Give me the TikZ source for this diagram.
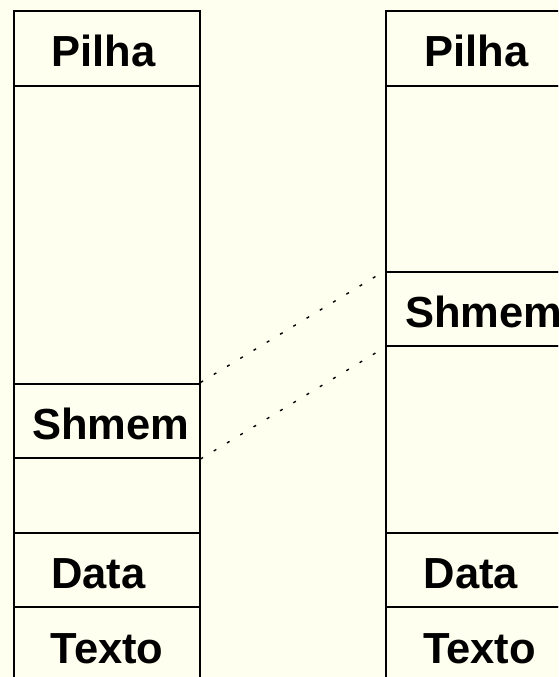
\documentclass[tikz,border=0pt]{standalone}
\usepackage{fontspec}
\setsansfont{Liberation Sans}
\definecolor{fundo}{RGB}{255,255,240}
\tikzset{
  celula/.style={draw, line width=2pt, anchor=north west, inner sep=0pt, minimum width=186pt},
  rotulo/.style={font=\sffamily\bfseries\fontsize{43.5}{44}\selectfont, anchor=base west, inner sep=0pt},
  ligacao/.style={line width=1.4pt, dash pattern=on 3pt off 12.5pt}
}
\begin{document}
\begin{tikzpicture}[x=1pt, y=-1pt]
\fill[fundo] (0,0) rectangle (558,677);
\clip (0,0) rectangle (558,677);

% processo da esquerda
\node[celula, minimum height=74.5pt] (pilhaA) at (12.5,10) {};
\node[celula, minimum height=298pt] (livreA) at (12.5,84.5) {};
\node[celula, minimum height=74.5pt] (shmemA) at (12.5,382.5) {};
\node[celula, minimum height=74.5pt] (vazioA) at (12.5,457) {};
\node[celula, minimum height=74.5pt] (dataA) at (12.5,531.5) {};
\node[celula, minimum height=74.5pt] (textoA) at (12.5,606) {};

% processo da direita
\node[celula, minimum height=74.5pt] (pilhaB) at (385,10) {};
\node[celula, minimum height=186.25pt] (livreB) at (385,84.5) {};
\node[celula, minimum height=74.5pt] (shmemB) at (385,270.75) {};
\node[celula, minimum height=186.25pt] (vazioB) at (385,345.25) {};
\node[celula, minimum height=74.5pt] (dataB) at (385,531.5) {};
\node[celula, minimum height=74.5pt] (textoB) at (385,606) {};

% rotulos
\node[rotulo] (tPilhaA) at ([xshift=39pt, yshift=-18pt]pilhaA.west) {Pilha};
\node[rotulo] (tShmemA) at ([xshift=19.5pt, yshift=-18.5pt]shmemA.west) {Shmem};
\node[rotulo] (tDataA) at ([xshift=38.5pt, yshift=-19pt]dataA.west) {Data};
\node[rotulo] (tTextoA) at ([xshift=38pt, yshift=-19.5pt]textoA.west) {Texto};
\node[rotulo] (tPilhaB) at ([xshift=39.5pt, yshift=-18pt]pilhaB.west) {Pilha};
\node[rotulo] (tShmemB) at ([xshift=20pt, yshift=-18.5pt]shmemB.west) {Shmem};
\node[rotulo] (tDataB) at ([xshift=38.5pt, yshift=-19pt]dataB.west) {Data};
\node[rotulo] (tTextoB) at ([xshift=38pt, yshift=-19.5pt]textoB.west) {Texto};

% memoria compartilhada
\draw[ligacao] (shmemA.north east) -- (shmemB.north west);
\draw[ligacao] (shmemA.south east) -- (shmemB.south west);
\end{tikzpicture}
\end{document}
